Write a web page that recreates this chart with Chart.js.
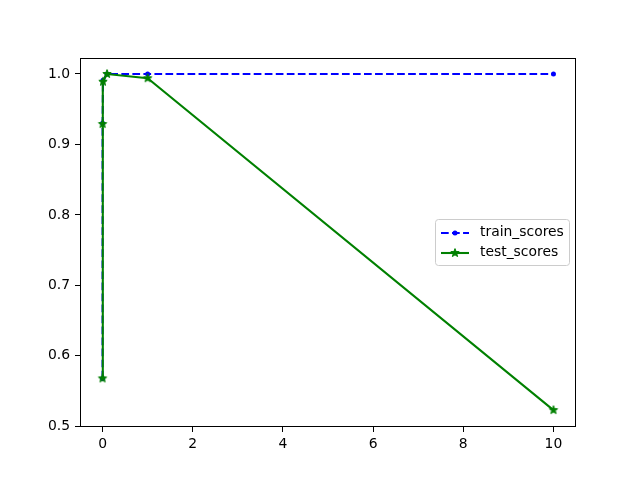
<!DOCTYPE html>
<html>
<head>
<meta charset="utf-8">
<script src="https://cdn.jsdelivr.net/npm/chart.js@4/dist/chart.umd.min.js"></script>
<style>
html,body{margin:0;padding:0;background:#fff;}
#wrap{width:640px;height:480px;position:relative;}
</style>
</head>
<body>
<div id="wrap"><canvas id="c" width="640" height="480"></canvas></div>
<script>
const xValues = [0.0001, 0.001, 0.01, 0.1, 1, 10];
const trainScores = [0.568, 0.930, 0.991, 1.0, 1.0, 1.0];
const testScores = [0.568, 0.929, 0.989, 1.0, 0.994, 0.523];
const xTicks = [0, 2, 4, 6, 8, 10];
const yTicks = [0.5, 0.6, 0.7, 0.8, 0.9, 1.0];
const seriesNames = ['train_scores', 'test_scores'];

function starCanvas(color, r) {
  const s = Math.ceil(r * 2 + 3);
  const cv = document.createElement('canvas');
  cv.width = s; cv.height = s;
  const g = cv.getContext('2d');
  const cx = s / 2, cy = s / 2;
  g.beginPath();
  for (let i = 0; i < 10; i++) {
    const rad = i % 2 === 0 ? r : r * 0.42;
    const a = -Math.PI / 2 + i * Math.PI / 5;
    const px = cx + rad * Math.cos(a), py = cy + rad * Math.sin(a);
    if (i === 0) g.moveTo(px, py); else g.lineTo(px, py);
  }
  g.closePath();
  g.fillStyle = color; g.fill();
  g.strokeStyle = color; g.lineWidth = 1; g.stroke();
  return cv;
}
const star = starCanvas('#008000', 4.4);

const pts = (ys) => xValues.map((x, i) => ({x: x, y: ys[i]}));
const DASH = [7.7, 3.33];

const framePlugin = {
  id: 'frame',
  afterDraw(chart) {
    const ctx = chart.ctx, a = chart.chartArea;
    ctx.save();
    ctx.strokeStyle = '#000'; ctx.lineWidth = 1;
    ctx.strokeRect(Math.round(a.left) + 0.5, Math.round(a.top) + 0.5,
                   Math.round(a.right - a.left) - 1, Math.round(a.bottom - a.top) - 1);
    // legend
    const lx = 435.5, ly = 219.5, lw = 134, lh = 46, rr = 3;
    ctx.beginPath();
    ctx.moveTo(lx + rr, ly); ctx.lineTo(lx + lw - rr, ly);
    ctx.quadraticCurveTo(lx + lw, ly, lx + lw, ly + rr);
    ctx.lineTo(lx + lw, ly + lh - rr);
    ctx.quadraticCurveTo(lx + lw, ly + lh, lx + lw - rr, ly + lh);
    ctx.lineTo(lx + rr, ly + lh);
    ctx.quadraticCurveTo(lx, ly + lh, lx, ly + lh - rr);
    ctx.lineTo(lx, ly + rr);
    ctx.quadraticCurveTo(lx, ly, lx + rr, ly);
    ctx.closePath();
    ctx.fillStyle = 'rgba(255,255,255,0.8)'; ctx.fill();
    ctx.strokeStyle = '#cccccc'; ctx.lineWidth = 1; ctx.stroke();
    // train handle
    ctx.strokeStyle = '#0000ff'; ctx.lineWidth = 2.08;
    ctx.setLineDash(DASH);
    ctx.beginPath(); ctx.moveTo(441, 233); ctx.lineTo(469, 233); ctx.stroke();
    ctx.setLineDash([]);
    ctx.fillStyle = '#0000ff';
    ctx.beginPath(); ctx.arc(455, 233, 2.5, 0, Math.PI * 2); ctx.fill();
    // test handle
    ctx.strokeStyle = '#008000';
    ctx.beginPath(); ctx.moveTo(441, 253); ctx.lineTo(469, 253); ctx.stroke();
    ctx.drawImage(star, 455 - star.width / 2, 253 - star.height / 2);
    ctx.fillStyle = '#000';
    ctx.font = '13.9px "DejaVu Sans"';
    ctx.textBaseline = 'middle'; ctx.textAlign = 'left';
    ctx.fillText(seriesNames[0], 480, 232);
    ctx.fillText(seriesNames[1], 480, 252);
    ctx.restore();
  }
};

new Chart(document.getElementById('c'), {
  type: 'scatter',
  data: {
    datasets: [
      {
        label: seriesNames[0], data: pts(trainScores), showLine: true,
        borderColor: '#0000ff', backgroundColor: '#0000ff', borderWidth: 2.08,
        borderDash: DASH, pointStyle: 'circle', pointRadius: 2.5,
        pointBorderWidth: 0, order: 1
      },
      {
        label: seriesNames[1], data: pts(testScores), showLine: true,
        borderColor: '#008000', backgroundColor: '#008000', borderWidth: 2.08,
        pointStyle: star, pointRadius: 4.4, order: 0
      }
    ]
  },
  plugins: [framePlugin],
  options: {
    responsive: false, animation: false,
    layout: {padding: {left: 0, right: 64, top: 58, bottom: 0}},
    plugins: {legend: {display: false}, tooltip: {enabled: false}},
    scales: {
      x: {
        type: 'linear', min: -0.5, max: 10.5,
        afterBuildTicks: (s) => { s.ticks = xTicks.map(v => ({value: v})); },
        afterFit: (s) => { s.height = 53; },
        grid: {drawOnChartArea: false, drawTicks: true, tickLength: 5, color: '#000', lineWidth: 1},
        border: {display: false},
        ticks: {color: '#000', padding: 4, font: {family: 'DejaVu Sans', size: 13.9},
                maxRotation: 0, callback: (v) => String(v)}
      },
      y: {
        type: 'linear', min: 0.499, max: 1.0227,
        afterBuildTicks: (s) => { s.ticks = yTicks.map(v => ({value: v})); },
        afterFit: (s) => { s.width = 80; },
        grid: {drawOnChartArea: false, drawTicks: true, tickLength: 5, color: '#000', lineWidth: 1},
        border: {display: false},
        ticks: {color: '#000', padding: 5, font: {family: 'DejaVu Sans', size: 13.9},
                callback: (v) => Number(v).toFixed(1)}
      }
    }
  }
});
</script>
</body>
</html>
